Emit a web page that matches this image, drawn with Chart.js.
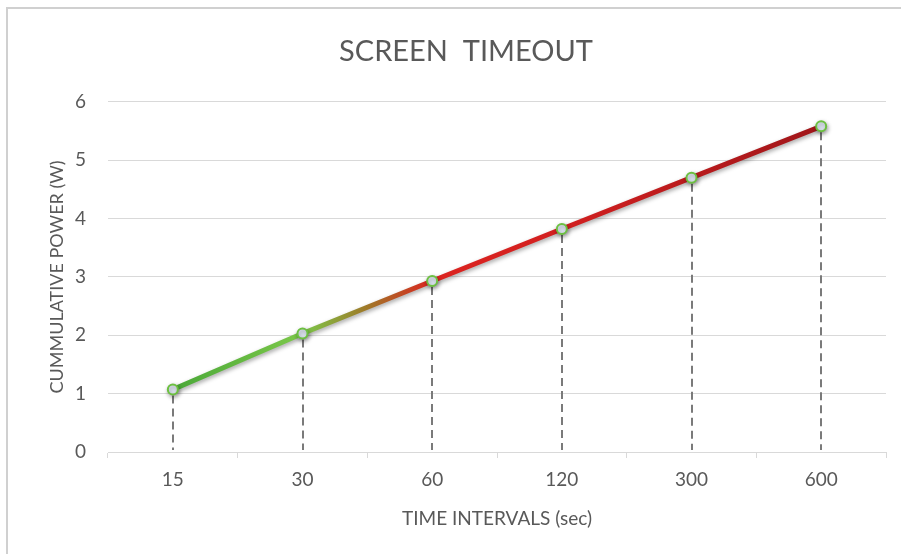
<!DOCTYPE html>
<html>
<head>
<meta charset="utf-8">
<script src="https://cdn.jsdelivr.net/npm/chart.js@4"></script>
<style>
  html, body { margin: 0; padding: 0; background: #ffffff; }
  #wrap { width: 901px; height: 554px; position: relative; }
</style>
</head>
<body>
<div id="wrap"><canvas id="chart" width="901" height="554"></canvas></div>
<script>
// Screen timeout setting vs. cumulative power draw
const timeIntervals = ['15', '30', '60', '120', '300', '600'];
const cumulativePower = [1.07, 2.03, 2.93, 3.82, 4.70, 5.58];
const powerTicks = [0, 1, 2, 3, 4, 5, 6];

const FONT = 'Lato, "Open Sans", sans-serif';
const TEXT = '#595959';
const PAD_LEFT = 46;
const PAD_BOTTOM = 24;
const PLOT_LEFT = 108;
const PLOT_BOTTOM = 452;
const H = 554;

// Light frame along the top and left edges, plus white background
const framePlugin = {
  id: 'frame',
  beforeDraw(chart) {
    const ctx = chart.ctx;
    ctx.save();
    ctx.fillStyle = '#ffffff';
    ctx.fillRect(0, 0, chart.width, chart.height);
    ctx.strokeStyle = '#d0d0d0';
    ctx.lineWidth = 2;
    ctx.beginPath();
    ctx.moveTo(7, chart.height);
    ctx.lineTo(7, 8);
    ctx.lineTo(chart.width, 8);
    ctx.stroke();
    ctx.restore();
  }
};

// Dashed drop lines from each point down to the category axis
const dropLinesPlugin = {
  id: 'dropLines',
  beforeDatasetsDraw(chart) {
    const ctx = chart.ctx;
    const meta = chart.getDatasetMeta(0);
    const yBase = chart.scales.y.getPixelForValue(0);
    ctx.save();
    ctx.strokeStyle = '#7a7a7a';
    ctx.lineWidth = 2;
    ctx.setLineDash([8, 5]);
    meta.data.forEach(pt => {
      ctx.beginPath();
      ctx.moveTo(Math.round(pt.x), pt.y + 6);
      ctx.lineTo(Math.round(pt.x), yBase - 2);
      ctx.stroke();
    });
    ctx.restore();
  }
};

// Soft shadow under the series line
const shadowPlugin = {
  id: 'lineShadow',
  beforeDatasetDraw(chart) {
    const ctx = chart.ctx;
    ctx.save();
    ctx.shadowColor = 'rgba(0,0,0,0.35)';
    ctx.shadowBlur = 4;
    ctx.shadowOffsetX = 1;
    ctx.shadowOffsetY = 2;
  },
  afterDatasetDraw(chart) {
    chart.ctx.restore();
  }
};

function lineGradient(context) {
  const chart = context.chart;
  const area = chart.chartArea;
  if (!area) return '#cc2020';
  const xs = chart.scales.x;
  const x0 = xs.getPixelForValue(0);
  const x1 = xs.getPixelForValue(timeIntervals.length - 1);
  const g = chart.ctx.createLinearGradient(x0, 0, x1, 0);
  const at = i => (xs.getPixelForValue(i) - x0) / (x1 - x0);
  g.addColorStop(0, '#4aa838');
  g.addColorStop(at(1), '#7cc84a');
  g.addColorStop((at(1) + at(2)) / 2, '#a07828');
  g.addColorStop(at(2), '#dc2420');
  g.addColorStop(at(3), '#d22020');
  g.addColorStop(1, '#a0161a');
  return g;
}

new Chart(document.getElementById('chart'), {
  type: 'line',
  data: {
    labels: timeIntervals,
    datasets: [{
      data: cumulativePower,
      borderColor: lineGradient,
      borderWidth: 5,
      tension: 0,
      pointRadius: 5,
      pointBorderWidth: 2,
      pointBackgroundColor: '#dfe7f2',
      pointBorderColor: '#6cc040',
      fill: false
    }]
  },
  options: {
    responsive: false,
    animation: false,
    layout: { padding: { left: PAD_LEFT, right: 15, top: 0, bottom: PAD_BOTTOM } },
    plugins: {
      legend: { display: false },
      tooltip: { enabled: false },
      title: {
        display: true,
        text: 'SCREEN  TIMEOUT',
        color: TEXT,
        font: { family: FONT, size: 29, weight: 'normal' },
        padding: { top: 34, bottom: 33 }
      }
    },
    scales: {
      x: {
        type: 'category',
        offset: true,
        grid: {
          drawOnChartArea: false,
          drawTicks: true,
          tickLength: 6,
          offset: true,
          color: '#d9d9d9',
          lineWidth: 1
        },
        border: { display: true, color: '#d9d9d9', width: 1 },
        ticks: { color: TEXT, font: { family: FONT, size: 19 }, padding: 10 },
        title: {
          display: true,
          text: 'TIME INTERVALS (sec)',
          color: TEXT,
          font: { family: FONT, size: 19 },
          padding: { top: 6, bottom: 0 }
        },
        afterFit(scale) { scale.height = H - PLOT_BOTTOM - PAD_BOTTOM; }
      },
      y: {
        min: 0,
        max: 6,
        afterBuildTicks(scale) { scale.ticks = powerTicks.map(v => ({ value: v })); },
        grid: { color: '#d9d9d9', lineWidth: 1, drawTicks: false },
        border: { display: false },
        ticks: { color: TEXT, font: { family: FONT, size: 19 }, padding: 22 },
        title: {
          display: true,
          text: 'CUMMULATIVE POWER (W)',
          color: TEXT,
          font: { family: FONT, size: 18 },
          padding: { top: 0, bottom: 6 }
        },
        afterFit(scale) { scale.width = PLOT_LEFT - PAD_LEFT; }
      }
    }
  },
  plugins: [framePlugin, dropLinesPlugin, shadowPlugin]
});
</script>
</body>
</html>
